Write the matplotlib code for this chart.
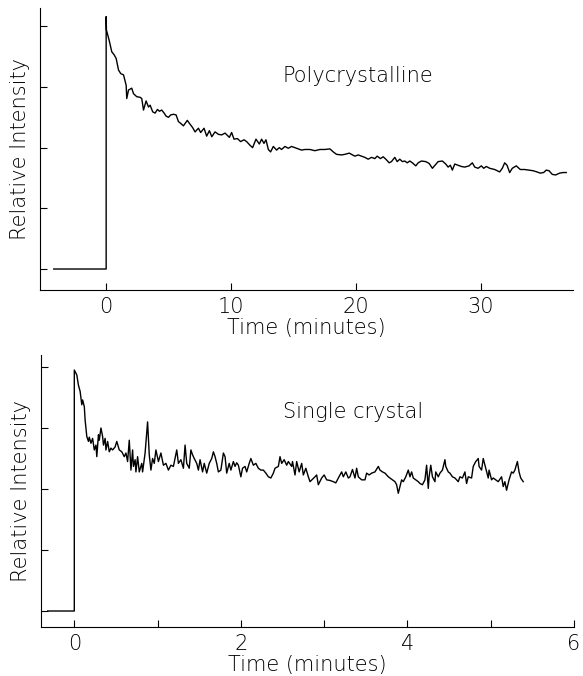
import matplotlib
matplotlib.use("Agg")
import matplotlib.pyplot as plt

# polycrystalline sample, time in minutes
poly_t = [-4.2, 0.0, 0.0, 0.02, 0.24, 0.45, 0.64, 0.8, 0.99, 1.17, 1.39, 1.6, 1.65, 1.79,
          2.05, 2.19, 2.45, 2.72, 2.85, 2.99, 3.2, 3.39, 3.52, 3.73, 3.92, 4.11, 4.27,
          4.45, 4.64, 4.8, 4.99, 5.17, 5.39, 5.6, 5.79, 5.97, 6.19, 6.5, 6.67, 6.93,
          7.12, 7.39, 7.57, 7.84, 8.05, 8.27, 8.46, 8.72, 8.99, 9.25, 9.52, 9.87, 10.05,
          10.24, 10.51, 10.77, 11.04, 11.25, 11.52, 11.73, 12.0, 12.27, 12.45, 12.64,
          12.8, 12.99, 13.17, 13.39, 13.65, 13.87, 14.05, 14.32, 14.59, 14.85, 15.12,
          15.39, 15.65, 15.92, 16.32, 16.72, 17.12, 17.52, 17.92, 18.19, 18.45, 18.85,
          19.12, 19.47, 19.73, 19.92, 20.19, 20.45, 20.72, 20.99, 21.25, 21.52, 21.71,
          21.97, 22.19, 22.4, 22.67, 22.85, 23.12, 23.31, 23.52, 23.73, 23.92, 24.11,
          24.32, 24.53, 24.8, 24.99, 25.25, 25.6, 25.87, 26.13, 26.59, 26.93, 27.2,
          27.39, 27.57, 27.73, 27.92, 28.19, 28.45, 28.72, 29.07, 29.33, 29.52, 29.79,
          30.05, 30.24, 30.45, 30.72, 31.12, 31.52, 31.73, 31.92, 32.11, 32.32, 32.53,
          32.85, 33.17, 33.52, 33.87, 34.19, 34.51, 34.77, 35.04, 35.25, 35.47, 35.73,
          36.0, 36.32, 36.59, 36.85]
poly_i = [0.0, 0.0, 4.16, 3.94, 3.77, 3.58, 3.53, 3.47, 3.28, 3.22, 3.20, 3.03, 2.81, 2.95,
          2.98, 2.89, 2.84, 2.83, 2.81, 2.62, 2.77, 2.67, 2.70, 2.59, 2.57, 2.63, 2.60,
          2.62, 2.57, 2.52, 2.50, 2.54, 2.55, 2.54, 2.43, 2.40, 2.36, 2.45, 2.40, 2.33,
          2.26, 2.32, 2.25, 2.32, 2.19, 2.28, 2.18, 2.26, 2.22, 2.21, 2.24, 2.17, 2.25,
          2.14, 2.15, 2.10, 2.13, 2.10, 2.04, 2.00, 2.14, 2.06, 2.14, 2.07,
          2.13, 1.97, 1.93, 2.02, 1.96, 2.00, 1.97, 2.02, 1.99, 2.02, 2.00,
          1.98, 1.96, 1.97, 1.97, 1.95, 1.97, 1.97, 1.98, 1.93, 1.89, 1.88,
          1.89, 1.91, 1.88, 1.86, 1.88, 1.86, 1.84, 1.81, 1.84, 1.82, 1.86,
          1.82, 1.85, 1.81, 1.75, 1.77, 1.84, 1.77, 1.81, 1.77, 1.78, 1.75,
          1.78, 1.75, 1.70, 1.75, 1.78, 1.77, 1.74, 1.66, 1.77, 1.78, 1.73,
          1.68, 1.71, 1.63, 1.73, 1.71, 1.69, 1.68, 1.70, 1.75, 1.68, 1.66,
          1.70, 1.66, 1.69, 1.66, 1.64, 1.60, 1.66, 1.75, 1.71, 1.59, 1.66,
          1.70, 1.64, 1.64, 1.63, 1.62, 1.60, 1.58, 1.59, 1.63, 1.62, 1.56,
          1.55, 1.58, 1.59, 1.59]

# single crystal sample
single_t = [-0.32, 0.0, 0.0, 0.03, 0.05, 0.07, 0.09, 0.10, 0.12, 0.13, 0.15, 0.17, 0.18,
            0.20, 0.22, 0.24, 0.26, 0.27, 0.29, 0.30, 0.32, 0.34, 0.35, 0.37, 0.38, 0.40,
            0.42, 0.44, 0.46, 0.49, 0.51, 0.54, 0.57, 0.60, 0.62, 0.64, 0.66, 0.68, 0.70,
            0.71, 0.73, 0.74, 0.76, 0.78, 0.81, 0.82, 0.85, 0.88, 0.90, 0.92, 0.94, 0.96,
            0.98, 1.01, 1.04, 1.07, 1.10, 1.13, 1.16, 1.19, 1.23, 1.25, 1.28, 1.31, 1.33,
            1.35, 1.38, 1.40, 1.42, 1.44, 1.47, 1.49, 1.51, 1.54, 1.56, 1.59, 1.62, 1.65,
            1.67, 1.69, 1.71, 1.73, 1.76, 1.79, 1.81, 1.83, 1.86, 1.88, 1.91, 1.93, 1.95,
            1.97, 2.00, 2.02, 2.05, 2.07, 2.10, 2.12, 2.15, 2.18, 2.21, 2.24, 2.27, 2.30,
            2.33, 2.36, 2.39, 2.41, 2.45, 2.47, 2.49, 2.52, 2.55, 2.57, 2.61, 2.62, 2.65,
            2.67, 2.70, 2.73, 2.75, 2.78, 2.81, 2.83, 2.86, 2.89, 2.91, 2.93, 2.97, 3.00,
            3.03, 3.07, 3.11, 3.14, 3.17, 3.21, 3.23, 3.26, 3.29, 3.31, 3.34, 3.37, 3.39,
            3.41, 3.45, 3.49, 3.51, 3.54, 3.57, 3.61, 3.65, 3.67, 3.70, 3.73, 3.77, 3.79,
            3.82, 3.85, 3.87, 3.89, 3.91, 3.93, 3.95, 3.98, 4.01, 4.03, 4.05, 4.07, 4.10,
            4.13, 4.15, 4.18, 4.21, 4.23, 4.25, 4.26, 4.28, 4.30, 4.33, 4.34, 4.37, 4.39,
            4.42, 4.45, 4.46, 4.49, 4.51, 4.54, 4.57, 4.61, 4.63, 4.66, 4.69, 4.71, 4.73,
            4.77, 4.79, 4.82, 4.85, 4.86, 4.89, 4.91, 4.94, 4.97, 4.98, 5.01, 5.03, 5.06,
            5.09, 5.13, 5.15, 5.17, 5.19, 5.22, 5.25, 5.27, 5.29, 5.32, 5.34, 5.36, 5.39]
single_i = [0.0, 0.0, 3.95, 3.87, 3.70, 3.60, 3.38, 3.46, 3.35, 3.13, 2.86, 2.78, 2.85,
            2.75, 2.83, 2.64, 2.72, 2.53, 2.89, 2.80, 3.00, 2.86, 2.72, 2.83, 2.64, 2.78,
            2.61, 2.67, 2.64, 2.69, 2.78, 2.64, 2.61, 2.53, 2.59, 2.45, 2.80, 2.31, 2.64,
            2.37, 2.48, 2.28, 2.53, 2.28, 2.42, 2.28, 2.59, 3.10, 2.56, 2.31, 2.50, 2.42,
            2.64, 2.45, 2.59, 2.39, 2.42, 2.31, 2.39, 2.37, 2.64, 2.42, 2.48, 2.34, 2.72,
            2.42, 2.34, 2.64, 2.56, 2.50, 2.42, 2.31, 2.48, 2.28, 2.42, 2.26, 2.42, 2.50,
            2.61, 2.53, 2.42, 2.28, 2.31, 2.59, 2.53, 2.26, 2.42, 2.31, 2.45, 2.37, 2.43,
            2.39, 2.20, 2.34, 2.37, 2.28, 2.42, 2.50, 2.39, 2.42, 2.34, 2.31, 2.31, 2.26,
            2.20, 2.18, 2.26, 2.34, 2.37, 2.53, 2.42, 2.48, 2.39, 2.45, 2.37, 2.45, 2.23,
            2.45, 2.28, 2.42, 2.23, 2.34, 2.20, 2.12, 2.16, 2.20, 2.23, 2.07, 2.18, 2.23,
            2.15, 2.14, 2.12, 2.10, 2.18, 2.28, 2.20, 2.28, 2.18, 2.20, 2.32, 2.18, 2.34,
            2.20, 2.15, 2.15, 2.26, 2.23, 2.26, 2.28, 2.37, 2.31, 2.28, 2.26, 2.20, 2.18,
            2.15, 2.12, 2.07, 1.93, 2.04, 2.15, 2.12, 2.20, 2.31, 2.20, 2.28, 2.18, 2.15,
            2.12, 2.09, 2.07, 2.15, 2.39, 2.01, 2.20, 2.39, 2.20, 2.12, 2.28, 2.20, 2.26,
            2.31, 2.48, 2.37, 2.28, 2.26, 2.20, 2.18, 2.12, 2.20, 2.18, 2.28, 2.09, 2.20,
            2.18, 2.37, 2.45, 2.50, 2.37, 2.31, 2.50, 2.34, 2.18, 2.31, 2.15, 2.18, 2.15,
            2.12, 2.20, 2.04, 2.12, 1.98, 2.15, 2.28, 2.26, 2.31, 2.45, 2.28, 2.18, 2.12]

label_font = dict(family=["DejaVu Sans"], fontweight="light", fontsize=15)

fig = plt.figure(figsize=(5.83, 6.76), dpi=100)
ax1 = fig.add_axes([0.0686, 0.571, 0.9144, 0.417])
ax2 = fig.add_axes([0.0703, 0.0725, 0.9143, 0.4024])

panels = [
    (ax1, poly_t, poly_i, (-5.3, 37.4), (-0.346, 4.30), [0, 10, 20, 30], [], "Polycrystalline", (14.1, 3.08)),
    (ax2, single_t, single_i, (-0.40, 6.0), (-0.262, 4.197), [0, 2, 4, 6], [1, 3, 5], "Single crystal", (2.5, 3.16)),
]

for ax, t, y, xl, yl, xt, xminor, name, pos in panels:
    ax.plot(t, y, color="black", lw=1.0)
    ax.set_xlim(*xl)
    ax.set_ylim(*yl)
    ax.spines["top"].set_visible(False)
    ax.spines["right"].set_visible(False)
    for s in ("left", "bottom"):
        ax.spines[s].set_linewidth(0.8)
    ax.set_xticks(xt)
    ax.set_xticks(xminor, minor=True)
    ax.set_yticks([0, 1, 2, 3, 4])
    ax.set_yticklabels([])
    ax.tick_params(axis="both", which="both", direction="in", length=5, width=0.8, pad=5)
    for lab in ax.get_xticklabels():
        lab.set_fontsize(15)
        lab.set_fontweight("light")
    ax.set_xlabel("Time (minutes)", labelpad=1, **label_font)
    ax.set_ylabel("Relative Intensity", labelpad=2, **label_font)
    ax.text(pos[0], pos[1], name, ha="left", va="baseline", **label_font)

fig.savefig("out.png", dpi=100)
